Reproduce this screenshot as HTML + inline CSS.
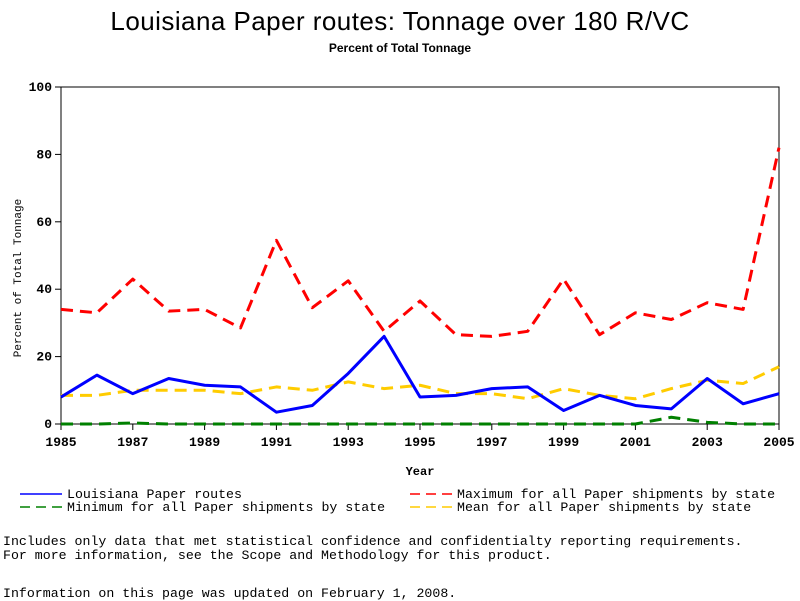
<!DOCTYPE html>
<html><head><meta charset="utf-8"><style>
body{margin:0;background:#fff;width:800px;height:600px;overflow:hidden;position:relative}
.t{position:absolute;white-space:pre;font-family:"Liberation Mono",monospace;font-size:13.25px;line-height:14px}
</style></head><body>
<div style="position:absolute;left:0;width:800px;top:6px;text-align:center;font:26px 'Liberation Sans',sans-serif;letter-spacing:0.45px">Louisiana Paper routes: Tonnage over 180 R/VC</div>
<div style="position:absolute;left:0;width:800px;top:41px;text-align:center;font:bold 12px 'Liberation Sans',sans-serif">Percent of Total Tonnage</div>
<svg id="c" width="800" height="600" style="position:absolute;left:0;top:0"></svg>
<div class="t" style="left:3px;top:535px">Includes only data that met statistical confidence and confidentialty reporting requirements.
For more information, see the Scope and Methodology for this product.</div>
<div class="t" style="left:3px;top:587px">Information on this page was updated on February 1, 2008.</div>
<script>
const years=[1985,1986,1987,1988,1989,1990,1991,1992,1993,1994,1995,1996,1997,1998,1999,2000,2001,2002,2003,2004,2005];
const louisiana=[8,14.5,9,13.5,11.5,11,3.5,5.5,15,26,8,8.5,10.5,11,4,8.5,5.5,4.5,13.5,6,9];
const maximum=[34,33,43,33.5,34,28.5,54.5,34.5,42.5,27.5,36.5,26.5,26,27.5,43,26.5,33,31,36,34,82];
const minimum=[0,0,0.3,0,0,0,0,0,0,0,0,0,0,0,0,0,0,2,0.5,0,0];
const mean=[8.5,8.5,10,10,10,9,11,10,12.5,10.5,11.5,9,9,7.5,10.5,8.5,7.5,10.5,13,12,17];
const yTicks=[0,20,40,60,80,100];
const xTicks=[1985,1987,1989,1991,1993,1995,1997,1999,2001,2003,2005];
const X0=61,X1=779,Y0=424,Y1=87;
const xs=v=>X0+(v-1985)/20*(X1-X0);
const ys=v=>Y0-v/100*(Y0-Y1);
const svg=document.getElementById('c');
const NS='http://www.w3.org/2000/svg';
function mk(tag,attrs){const e=document.createElementNS(NS,tag);for(const k in attrs)e.setAttribute(k,attrs[k]);svg.appendChild(e);return e;}
const frame=mk('rect',{x:X0,y:Y1,width:X1-X0,height:Y0-Y1,fill:'none',stroke:'#000','stroke-width':1});


yTicks.forEach(v=>{
 const l=mk('line',{x1:X0-6,x2:X0,y1:ys(v),y2:ys(v),stroke:'#000'});
 
 
 const t=mk('text',{x:X0-9,y:ys(v)+4,'text-anchor':'end','font-family':'Liberation Mono,monospace','font-size':13,'font-weight':'bold'});
 t.textContent=v;
 
 
});
xTicks.forEach(v=>{
 const l=mk('line',{x1:xs(v),x2:xs(v),y1:Y0,y2:Y0+6,stroke:'#000'});
 
 
 const t=mk('text',{x:xs(v),y:Y0+22,'text-anchor':'middle','font-family':'Liberation Mono,monospace','font-size':13,'font-weight':'bold'});
 t.textContent=v;
 
 
});
const xt=mk('text',{x:420,y:475,'text-anchor':'middle','font-family':'Liberation Mono,monospace','font-size':12,'font-weight':'bold'});
xt.textContent='Year';


const yt=mk('text',{x:0,y:0,'text-anchor':'middle','font-family':'Liberation Mono,monospace','font-size':11,transform:'translate(21,278) rotate(-90)'});
yt.textContent='Percent of Total Tonnage';


function series(arr,color,dash,w,name){
 const p=mk('polyline',{points:arr.map((v,i)=>xs(years[i])+','+ys(v)).join(' '),fill:'none',stroke:color,'stroke-width':w,'stroke-dasharray':dash,'stroke-linejoin':'round'});
 
 
}
series(mean,'#ffcc00','12 7',3,'mean-line');
series(minimum,'#008000','12 7',3,'minimum-line');
series(maximum,'#ff0000','12 7',3,'maximum-line');
series(louisiana,'#0000ff','',3,'louisiana-line');
function legend(x,y,color,dash,label,name){
 const l=mk('line',{x1:x,x2:x+42,y1:y,y2:y,stroke:color,'stroke-width':1.5,'stroke-dasharray':dash});
 
 
 const t=mk('text',{x:x+47,y:y+4,'font-family':'Liberation Mono,monospace','font-size':13.25});
 t.textContent=label;
 
 
}
legend(20,494,'#0000ff','','Louisiana Paper routes','legend-louisiana');
legend(20,507,'#008000','10 6','Minimum for all Paper shipments by state','legend-minimum');
legend(410,494,'#ff0000','10 6','Maximum for all Paper shipments by state','legend-maximum');
legend(410,507,'#ffcc00','10 6','Mean for all Paper shipments by state','legend-mean');
</script>
</body></html>
